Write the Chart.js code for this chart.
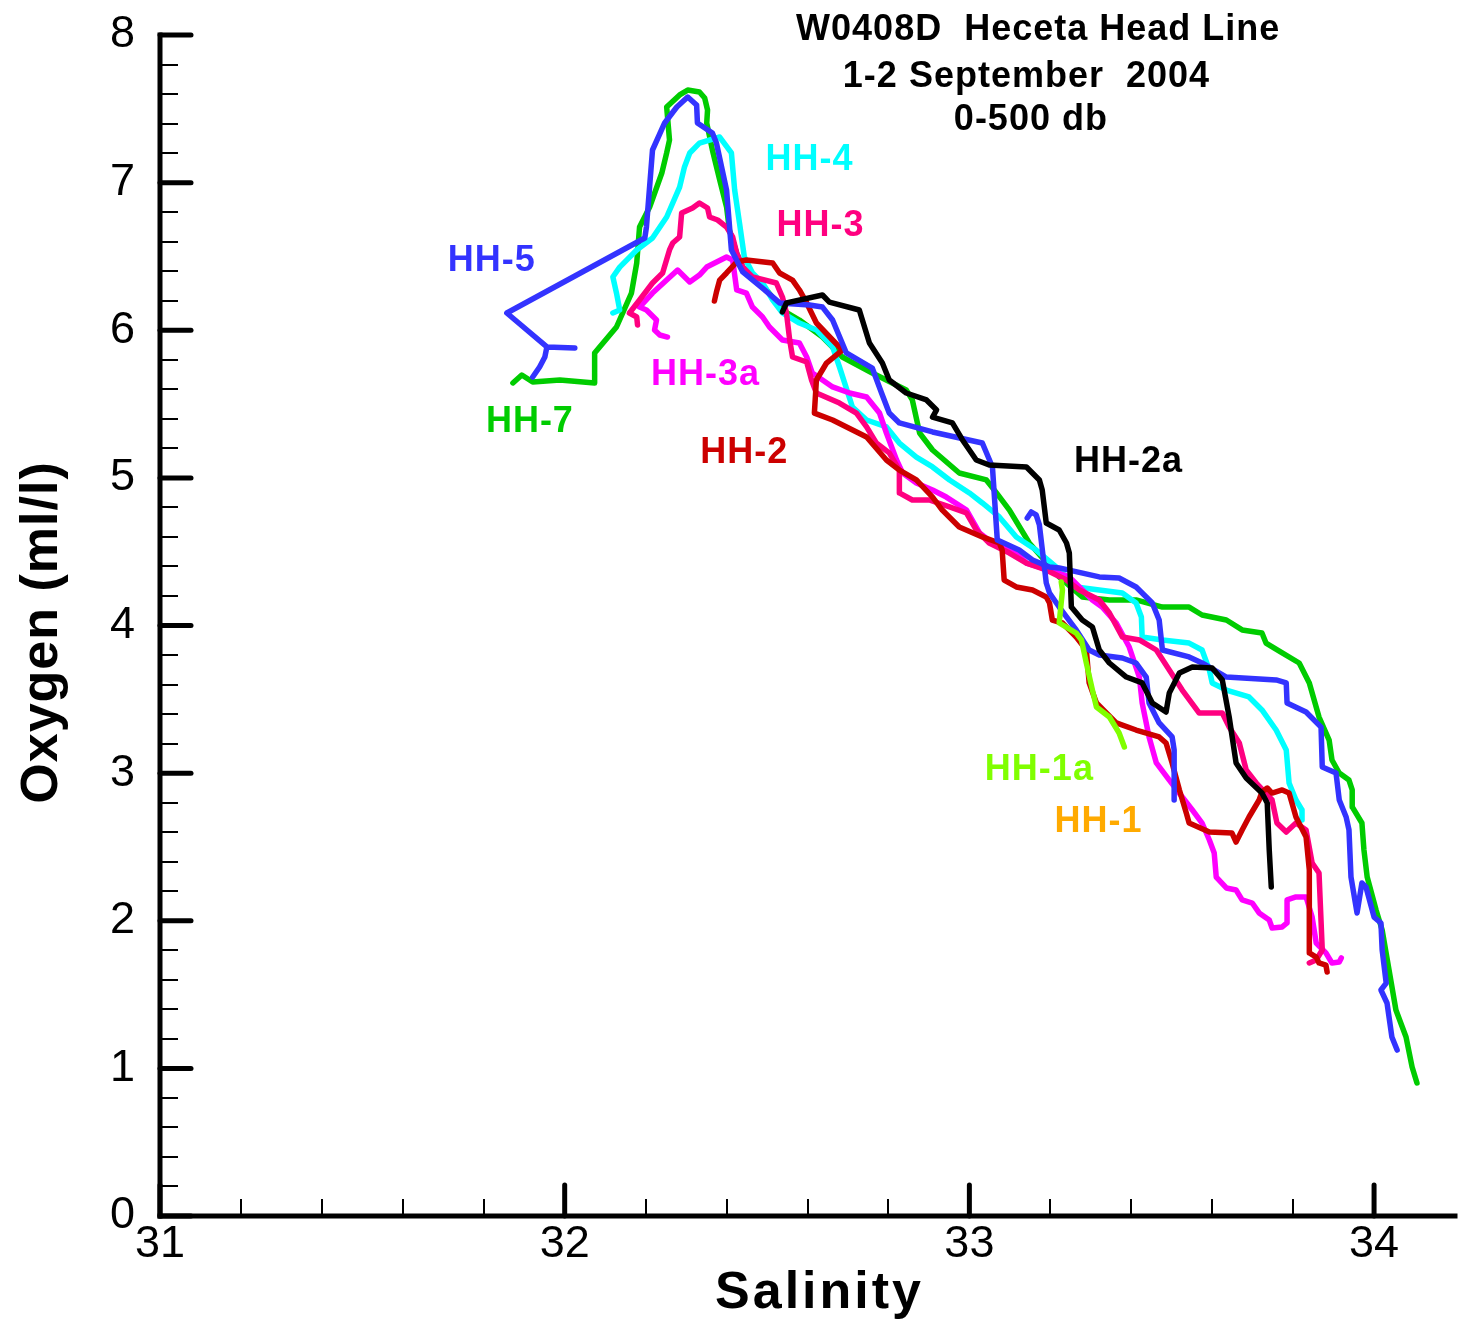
<!DOCTYPE html>
<html>
<head>
<meta charset="utf-8">
<script src="https://cdn.jsdelivr.net/npm/chart.js@4.4.1/dist/chart.umd.min.js"></script>
<style>
html,body{margin:0;padding:0;background:#ffffff;}
canvas{display:block;}
</style>
</head>
<body>
<canvas id="c" width="1458" height="1328"></canvas>
<script>
const FONT = '"Liberation Sans", Arial, Helvetica, sans-serif';

// Tick labels
const xTickValues = [31, 32, 33, 34];
const yTickValues = [0, 1, 2, 3, 4, 5, 6, 7, 8];

// Station profiles: [salinity, oxygen (ml/l)]
const hh7 = [[31.872,5.643],[31.894,5.697],[31.921,5.649],[31.988,5.663],[32.074,5.643],[32.074,5.846],[32.128,6.022],[32.165,6.252],[32.178,6.456],[32.185,6.699],[32.210,6.835],[32.240,7.065],[32.252,7.201],[32.259,7.289],[32.252,7.512],[32.284,7.594],[32.304,7.627],[32.333,7.614],[32.346,7.573],[32.353,7.492],[32.351,7.404],[32.365,7.221],[32.383,7.018],[32.400,6.835],[32.407,6.679],[32.425,6.523],[32.440,6.428],[32.489,6.307],[32.538,6.137],[32.580,6.069],[32.637,5.954],[32.686,5.819],[32.760,5.710],[32.844,5.595],[32.859,5.528],[32.877,5.304],[32.909,5.189],[32.975,5.033],[33.042,4.986],[33.067,4.898],[33.099,4.782],[33.148,4.559],[33.222,4.329],[33.279,4.193],[33.346,4.173],[33.412,4.173],[33.477,4.125],[33.543,4.125],[33.575,4.071],[33.635,4.037],[33.674,3.970],[33.723,3.949],[33.733,3.881],[33.773,3.814],[33.815,3.746],[33.840,3.611],[33.864,3.380],[33.889,3.224],[33.896,3.089],[33.914,3.001],[33.938,2.953],[33.946,2.886],[33.946,2.771],[33.970,2.662],[33.975,2.479],[33.983,2.296],[34.005,2.073],[34.020,1.937],[34.037,1.666],[34.054,1.395],[34.079,1.213],[34.094,1.009],[34.106,0.901]];

const hh5 = [[31.921,5.683],[31.938,5.751],[31.951,5.819],[31.956,5.887],[32.025,5.880],[31.956,5.887],[31.857,6.117],[32.198,6.625],[32.202,6.699],[32.217,7.221],[32.247,7.404],[32.277,7.512],[32.304,7.580],[32.326,7.526],[32.328,7.404],[32.365,7.336],[32.375,7.268],[32.400,6.950],[32.412,6.544],[32.440,6.395],[32.494,6.273],[32.531,6.185],[32.605,6.171],[32.637,6.157],[32.662,6.069],[32.696,5.846],[32.760,5.744],[32.783,5.575],[32.802,5.439],[32.827,5.372],[32.909,5.311],[33.032,5.236],[33.057,5.074],[33.069,4.579],[33.123,4.511],[33.156,4.444],[33.198,4.396],[33.222,4.390],[33.321,4.329],[33.370,4.322],[33.412,4.261],[33.452,4.152],[33.469,4.037],[33.477,3.834],[33.543,3.787],[33.575,3.746],[33.635,3.651],[33.758,3.631],[33.783,3.611],[33.785,3.475],[33.832,3.414],[33.869,3.312],[33.872,3.042],[33.906,3.001],[33.914,2.818],[33.931,2.703],[33.938,2.615],[33.943,2.296],[33.958,2.053],[33.970,2.256],[33.980,2.229],[34.000,2.025],[34.017,1.985],[34.020,1.802],[34.030,1.578],[34.017,1.531],[34.032,1.443],[34.044,1.213],[34.057,1.124]];

const hh5b = [[33.143,4.728],[33.153,4.769],[33.165,4.749],[33.173,4.681],[33.190,4.288],[33.198,4.220],[33.222,4.125],[33.264,3.970],[33.296,3.834],[33.321,3.800],[33.378,3.780],[33.412,3.746],[33.437,3.651],[33.444,3.475],[33.469,3.340],[33.501,3.245],[33.506,3.157],[33.506,2.818]];

const hh4 = [[32.119,6.117],[32.136,6.137],[32.128,6.252],[32.119,6.361],[32.136,6.428],[32.178,6.544],[32.217,6.625],[32.252,6.767],[32.284,6.970],[32.296,7.106],[32.309,7.201],[32.333,7.268],[32.383,7.309],[32.412,7.201],[32.420,6.950],[32.432,6.726],[32.444,6.496],[32.464,6.388],[32.489,6.320],[32.514,6.205],[32.538,6.117],[32.580,6.049],[32.622,6.002],[32.662,5.887],[32.679,5.751],[32.711,5.480],[32.746,5.392],[32.795,5.345],[32.827,5.236],[32.869,5.141],[32.909,5.074],[32.951,4.986],[33.000,4.898],[33.032,4.830],[33.074,4.735],[33.116,4.600],[33.165,4.511],[33.215,4.396],[33.264,4.261],[33.321,4.240],[33.378,4.220],[33.412,4.152],[33.425,4.058],[33.427,3.922],[33.477,3.902],[33.543,3.881],[33.575,3.834],[33.593,3.699],[33.600,3.611],[33.635,3.563],[33.691,3.516],[33.723,3.428],[33.758,3.292],[33.783,3.157],[33.790,2.933],[33.807,2.818],[33.822,2.750],[33.822,2.682]];

const hh3 = [[32.180,6.036],[32.178,6.090],[32.160,6.117],[32.185,6.205],[32.217,6.320],[32.242,6.388],[32.259,6.544],[32.267,6.591],[32.284,6.632],[32.289,6.794],[32.316,6.828],[32.333,6.862],[32.353,6.828],[32.358,6.767],[32.378,6.747],[32.400,6.699],[32.415,6.632],[32.425,6.523],[32.440,6.428],[32.464,6.361],[32.523,6.320],[32.538,6.225],[32.548,6.117],[32.556,5.934],[32.563,5.819],[32.598,5.785],[32.610,5.663],[32.622,5.575],[32.679,5.507],[32.721,5.439],[32.746,5.345],[32.770,5.236],[32.802,5.169],[32.827,5.053],[32.827,4.898],[32.859,4.850],[32.901,4.850],[32.951,4.803],[32.993,4.762],[33.017,4.647],[33.049,4.559],[33.099,4.491],[33.141,4.423],[33.190,4.376],[33.240,4.308],[33.272,4.240],[33.321,4.173],[33.346,4.085],[33.378,3.922],[33.420,3.902],[33.462,3.834],[33.494,3.699],[33.526,3.563],[33.568,3.407],[33.625,3.407],[33.642,3.312],[33.667,3.204],[33.684,3.021],[33.709,2.933],[33.748,2.818],[33.760,2.662],[33.783,2.601],[33.807,2.662],[33.832,2.615],[33.847,2.391],[33.864,2.323],[33.872,1.802],[33.857,1.734],[33.840,1.714]];

const hh3a = [[32.254,5.954],[32.235,5.968],[32.222,6.002],[32.227,6.069],[32.202,6.137],[32.185,6.157],[32.217,6.252],[32.252,6.340],[32.279,6.408],[32.309,6.327],[32.333,6.374],[32.351,6.428],[32.400,6.496],[32.415,6.476],[32.425,6.273],[32.449,6.252],[32.464,6.157],[32.489,6.090],[32.506,6.022],[32.538,5.934],[32.580,5.914],[32.598,5.819],[32.612,5.710],[32.662,5.616],[32.704,5.575],[32.746,5.548],[32.778,5.439],[32.795,5.304],[32.820,5.121],[32.835,5.033],[32.869,4.965],[32.909,4.918],[32.943,4.870],[32.993,4.782],[33.025,4.627],[33.057,4.559],[33.116,4.491],[33.141,4.423],[33.198,4.376],[33.247,4.329],[33.304,4.173],[33.328,4.125],[33.363,4.017],[33.395,3.854],[33.420,3.651],[33.427,3.475],[33.444,3.245],[33.462,3.069],[33.494,2.953],[33.526,2.838],[33.551,2.750],[33.575,2.662],[33.593,2.547],[33.605,2.459],[33.610,2.296],[33.635,2.222],[33.659,2.208],[33.674,2.141],[33.699,2.120],[33.716,2.053],[33.741,2.005],[33.748,1.951],[33.773,1.958],[33.785,1.985],[33.785,2.141],[33.807,2.161],[33.832,2.161],[33.847,2.025],[33.857,1.849],[33.881,1.782],[33.896,1.714],[33.914,1.721],[33.919,1.748]];

const hh2 = [[32.370,6.198],[32.375,6.259],[32.383,6.340],[32.400,6.388],[32.425,6.462],[32.449,6.476],[32.514,6.456],[32.531,6.388],[32.563,6.340],[32.580,6.273],[32.598,6.185],[32.622,6.049],[32.662,5.934],[32.686,5.866],[32.647,5.778],[32.622,5.663],[32.617,5.439],[32.662,5.392],[32.746,5.277],[32.795,5.121],[32.827,5.053],[32.869,4.986],[32.909,4.870],[32.933,4.782],[32.975,4.667],[33.032,4.600],[33.074,4.559],[33.081,4.511],[33.086,4.308],[33.116,4.261],[33.156,4.240],[33.190,4.193],[33.198,4.152],[33.205,4.037],[33.230,4.017],[33.264,3.922],[33.289,3.834],[33.296,3.611],[33.314,3.475],[33.363,3.340],[33.412,3.292],[33.469,3.245],[33.486,3.204],[33.501,3.069],[33.519,2.886],[33.536,2.730],[33.543,2.662],[33.593,2.601],[33.649,2.594],[33.659,2.533],[33.674,2.615],[33.691,2.703],[33.716,2.818],[33.723,2.872],[33.736,2.899],[33.748,2.865],[33.773,2.886],[33.790,2.865],[33.807,2.703],[33.832,2.567],[33.840,2.344],[33.840,1.782],[33.857,1.754],[33.864,1.714],[33.881,1.700],[33.884,1.653]];

const hh2a = [[32.538,6.124],[32.548,6.185],[32.637,6.239],[32.654,6.191],[32.728,6.137],[32.753,5.914],[32.785,5.778],[32.802,5.663],[32.844,5.575],[32.894,5.528],[32.919,5.460],[32.909,5.412],[32.958,5.372],[32.983,5.257],[33.017,5.121],[33.049,5.087],[33.141,5.074],[33.173,4.986],[33.180,4.918],[33.190,4.694],[33.222,4.647],[33.240,4.559],[33.247,4.491],[33.252,4.125],[33.279,4.037],[33.304,3.990],[33.321,3.834],[33.346,3.746],[33.388,3.651],[33.427,3.611],[33.452,3.475],[33.486,3.414],[33.494,3.543],[33.519,3.678],[33.551,3.719],[33.600,3.712],[33.625,3.631],[33.642,3.380],[33.659,3.069],[33.684,2.967],[33.723,2.865],[33.736,2.798],[33.741,2.479],[33.746,2.229]];

const hh1a = [[33.227,4.295],[33.230,4.240],[33.222,4.017],[33.264,3.949],[33.277,3.902],[33.289,3.746],[33.304,3.563],[33.314,3.448],[33.346,3.380],[33.370,3.272],[33.383,3.177]];

const hh1 = [];

// Station label text, and where each is written (salinity, oxygen of the text centre)
const labelNames = ['HH-4', 'HH-3', 'HH-5', 'HH-3a', 'HH-7', 'HH-2', 'HH-2a', 'HH-1a', 'HH-1'];
const labelSal   = [32.605, 32.632, 31.820, 32.348, 31.914, 32.444, 33.393, 33.173, 33.319];
const labelOxy   = [7.154, 6.705, 6.470, 5.697, 5.379, 5.169, 5.108, 3.022, 2.669];

const titleLines = ['W0408D  Heceta Head Line', '1-2 September  2004', '0-500 db'];
const titleSal   = [33.170, 33.141, 33.152];
const titleOxy   = [8.035, 7.715, 7.425];

const COLORS = {
  'HH-7': '#00CC00', 'HH-5': '#3333FF', 'HH-4': '#00FFFF', 'HH-3': '#FF0080',
  'HH-3a': '#FF00FF', 'HH-2': '#CC0000', 'HH-2a': '#000000', 'HH-1a': '#80FF00', 'HH-1': '#FFAA00'
};

function ds(name, data, order) {
  return {
    label: name, data: data, borderColor: COLORS[name], backgroundColor: COLORS[name],
    borderWidth: 5.5, pointRadius: 0, pointHoverRadius: 0, tension: 0, fill: false,
    borderJoinStyle: 'round', borderCapStyle: 'round', order: order, spanGaps: false
  };
}

const tecAxes = {
  id: 'tecAxes',
  afterDraw(chart) {
    const ctx = chart.ctx, a = chart.chartArea, x = chart.scales.x, y = chart.scales.y;
    ctx.save();
    ctx.strokeStyle = '#000';
    function seg(x1, y1, x2, y2) { ctx.beginPath(); ctx.moveTo(x1, y1); ctx.lineTo(x2, y2); ctx.stroke(); }
    // minor ticks
    ctx.lineWidth = 2; ctx.lineCap = 'butt';
    for (let i = 1; i < 40; i++) {
      if (i % 5 === 0) continue;
      const py = Math.round(y.getPixelForValue(i * 0.2));
      seg(a.left, py, a.left + 18, py);
    }
    for (let i = 1; i < 16; i++) {
      if (i % 5 === 0) continue;
      const px = Math.round(x.getPixelForValue(31 + i * 0.2));
      seg(px, a.bottom, px, a.bottom - 17);
    }
    // major ticks
    ctx.lineWidth = 5; ctx.lineCap = 'round';
    yTickValues.forEach(v => { const py = y.getPixelForValue(v); seg(a.left, py, a.left + 31, py); });
    xTickValues.forEach(v => { const px = x.getPixelForValue(v); seg(px, a.bottom, px, a.bottom - 31); });
    // axis lines
    ctx.lineCap = 'square';
    seg(a.left, a.top, a.left, a.bottom);
    seg(a.left, a.bottom, a.right, a.bottom);

    // title
    ctx.fillStyle = '#000';
    ctx.textAlign = 'center'; ctx.textBaseline = 'middle';
    ctx.font = 'bold 36px ' + FONT;
    if ('letterSpacing' in ctx) ctx.letterSpacing = '1px';
    titleLines.forEach((t, i) => ctx.fillText(t, x.getPixelForValue(titleSal[i]), y.getPixelForValue(titleOxy[i])));

    // station labels
    labelNames.forEach((t, i) => {
      ctx.fillStyle = COLORS[t];
      ctx.fillText(t, x.getPixelForValue(labelSal[i]), y.getPixelForValue(labelOxy[i]));
    });

    // axis titles
    ctx.fillStyle = '#000';
    ctx.font = 'bold 52px ' + FONT;
    if ('letterSpacing' in ctx) ctx.letterSpacing = '3px';
    ctx.fillText('Salinity', (a.left + a.right) / 2 + 12, a.bottom + 78);
    ctx.save();
    ctx.translate(a.left - 117, (a.top + a.bottom) / 2 + 7);
    ctx.rotate(-Math.PI / 2);
    if ('letterSpacing' in ctx) ctx.letterSpacing = '1px';
    ctx.fillText('Oxygen (ml/l)', 0, 0);
    ctx.restore();
    ctx.restore();
  }
};

new Chart(document.getElementById('c'), {
  type: 'line',
  data: {
    datasets: [
      ds('HH-1', hh1, 0),
      ds('HH-1a', hh1a, 1),
      ds('HH-2a', hh2a, 2),
      ds('HH-5', hh5b, 3),
      ds('HH-5', hh5, 3),
      ds('HH-2', hh2, 4),
      ds('HH-3', hh3, 5),
      ds('HH-3a', hh3a, 6),
      ds('HH-4', hh4, 7),
      ds('HH-7', hh7, 8)
    ]
  },
  options: {
    responsive: false,
    animation: false,
    devicePixelRatio: 1,
    layout: { padding: { left: 0, right: 3, top: 35, bottom: 0 } },
    plugins: { legend: { display: false }, tooltip: { enabled: false }, title: { display: false } },
    scales: {
      x: {
        type: 'linear', position: 'bottom', min: 31, max: 34.2,
        grid: { display: false, drawTicks: false }, border: { display: false },
        ticks: { stepSize: 1, autoSkip: false, maxRotation: 0, color: '#000', padding: 2,
                 font: { family: FONT, size: 45 } },
        afterBuildTicks: s => { s.ticks = xTickValues.map(v => ({ value: v })); },
        afterFit: s => { s.height = 112; s.paddingLeft = 0; s.paddingRight = 0; }
      },
      y: {
        type: 'linear', position: 'left', min: 0, max: 8,
        grid: { display: false, drawTicks: false }, border: { display: false },
        ticks: { stepSize: 1, autoSkip: false, color: '#000', padding: 25,
                 font: { family: FONT, size: 45 } },
        afterBuildTicks: s => { s.ticks = yTickValues.map(v => ({ value: v })); },
        afterFit: s => { s.width = 160; s.paddingTop = 0; s.paddingBottom = 0; }
      }
    }
  },
  plugins: [tecAxes]
});
</script>
</body>
</html>
